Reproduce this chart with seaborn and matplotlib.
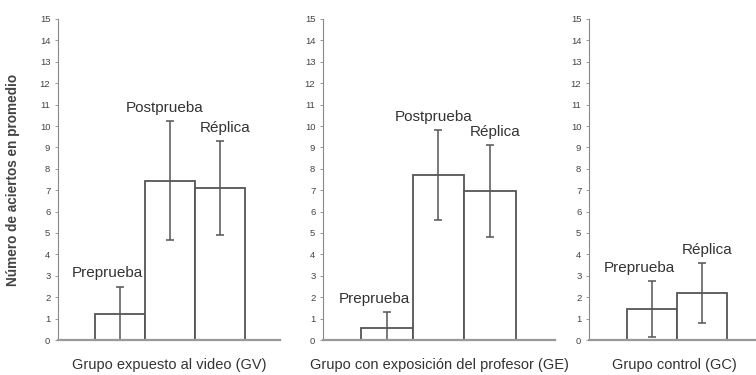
import matplotlib
matplotlib.use("Agg")
import matplotlib.pyplot as plt
import seaborn as sns

# ------------------------------
# Data
# ------------------------------
groups = ["Grupo expuesto al video (GV)",
          "Grupo con exposición del profesor (GE)",
          "Grupo control (GC)"]
gv_phases = ["Preprueba", "Postprueba", "Réplica"]
gv_means = [1.2, 7.45, 7.1]
gv_errors = [1.3, 2.8, 2.2]
ge_phases = ["Preprueba", "Postprueba", "Réplica"]
ge_means = [0.55, 7.7, 6.95]
ge_errors = [0.75, 2.1, 2.15]
gc_phases = ["Preprueba", "Réplica"]
gc_means = [1.45, 2.2]
gc_errors = [1.3, 1.4]
y_ticks = list(range(0, 16))
y_label = "Número de aciertos en promedio"

sns.set_theme(style="white")
plt.rcParams["font.family"] = ["Liberation Sans", "DejaVu Sans"]

W, H = 756, 375
fig = plt.figure(figsize=(W / 100, H / 100), dpi=100)

# panel boxes in pixels: left, right, x-limits
panels = [
    (58, 280, (-1.24, 3.2), gv_phases, gv_means, gv_errors, groups[0]),
    (323, 555, (-1.24, 3.26), ge_phases, ge_means, ge_errors, groups[1]),
    (589, 760, (-1.26, 2.16), gc_phases, gc_means, gc_errors, groups[2]),
]
# horizontal nudge of the phase labels (pixels)
label_shift = {"Preprueba": -13, "Postprueba": -5, "Réplica": 5}
y0, y15 = 340, 19
ink = "#555555"

for left, right, xlim, phases, means, errs, title in panels:
    ax = fig.add_axes([left / W, (H - y0) / H, (right - left) / W, (y0 - y15) / H])
    sns.barplot(x=phases, y=means, color="white", edgecolor=ink,
                linewidth=1.3, width=1.0, ax=ax, saturation=1)
    ax.errorbar(range(len(means)), means, yerr=errs, fmt="none",
                ecolor=ink, elinewidth=1.1, capsize=3, capthick=1.1)
    for i, (m, e, p) in enumerate(zip(means, errs, phases)):
        ax.annotate(p, (i, m + e), xytext=(label_shift[p], 6),
                    textcoords="offset pixels",
                    ha="center", va="bottom", fontsize=11, color="#333333")
    ax.set_xlim(*xlim)
    ax.set_ylim(0, 15)
    ax.set_yticks(y_ticks)
    ax.set_xticks([])
    ax.set_xlabel(title, fontsize=10.5, color="#333333", labelpad=13)
    for s in ["top", "right"]:
        ax.spines[s].set_visible(False)
    ax.spines["left"].set_color("#888888")
    ax.spines["left"].set_linewidth(0.8)
    ax.spines["bottom"].set_color("#999999")
    ax.spines["bottom"].set_linewidth(1.6)
    ax.tick_params(axis="y", left=True, length=2.5, width=0.6, color="#888888",
                   labelsize=6.8, labelcolor="#444444", pad=3)
    ax.set_facecolor("none")

fig.text(13 / W, 1 - 180 / H, y_label, rotation=90, ha="center", va="center",
         fontsize=9.8, fontweight="bold", color="#444444")

fig.savefig("out.png", dpi=100)
